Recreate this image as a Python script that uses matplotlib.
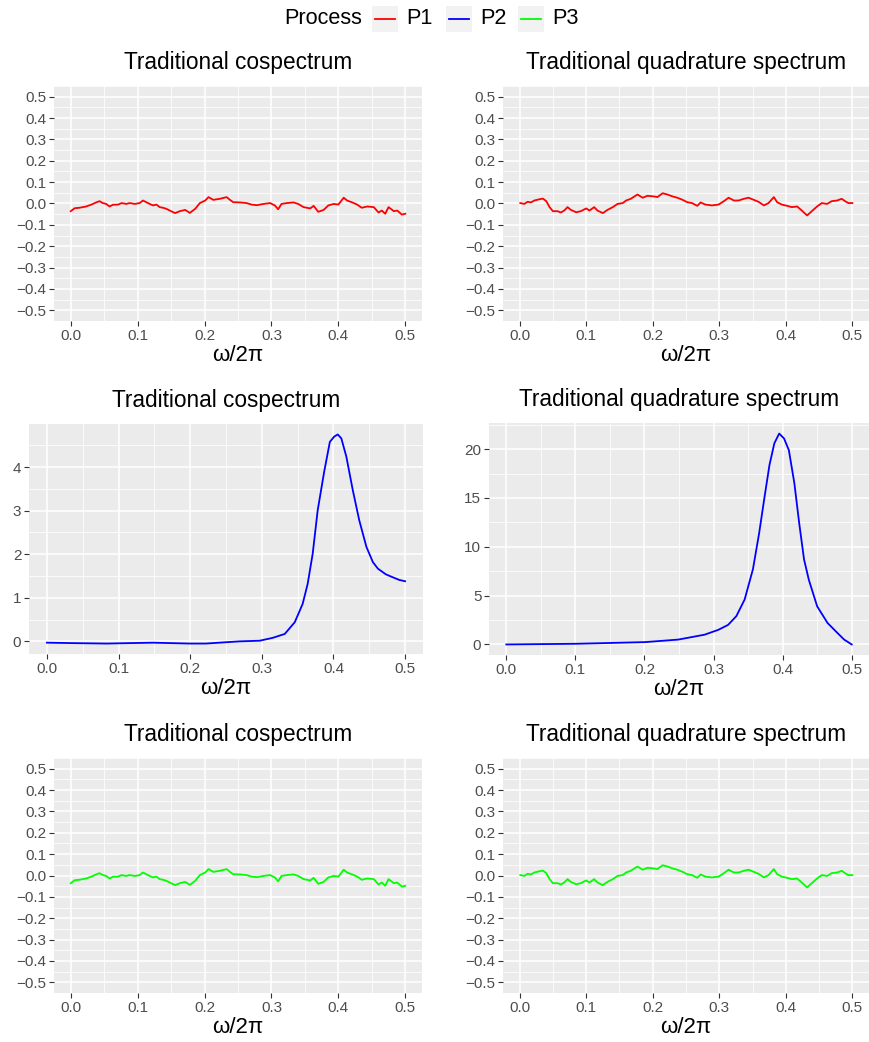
import matplotlib.pyplot as plt
from matplotlib.patches import Rectangle
from matplotlib.lines import Line2D
from matplotlib.ticker import MultipleLocator, FuncFormatter

plt.rcParams['font.family'] = ['Liberation Sans', 'DejaVu Sans']

W, H = 869, 1042

# P1 and P3 cospectrum
co_freq = [0.000, 0.006, 0.013, 0.023, 0.031, 0.038, 0.043, 0.048, 0.053, 0.058,
           0.063, 0.071, 0.076, 0.083, 0.088, 0.096, 0.103, 0.108, 0.113, 0.118,
           0.123, 0.128, 0.133, 0.138, 0.143, 0.148, 0.156, 0.163, 0.171, 0.178,
           0.186, 0.193, 0.201, 0.206, 0.213, 0.223, 0.233, 0.238, 0.243, 0.253,
           0.263, 0.270, 0.278, 0.288, 0.298, 0.305, 0.310, 0.315, 0.323, 0.333,
           0.340, 0.348, 0.358, 0.363, 0.370, 0.378, 0.385, 0.393, 0.400, 0.408,
           0.413, 0.420, 0.428, 0.435, 0.443, 0.453, 0.460, 0.465, 0.470, 0.475,
           0.483, 0.488, 0.495, 0.500]
co_vals = [-0.036, -0.022, -0.020, -0.014, -0.005, 0.005, 0.011, 0.002, -0.002, -0.014,
           -0.006, -0.005, 0.002, -0.002, 0.002, -0.002, 0.002, 0.014, 0.006, -0.002,
           -0.009, -0.005, -0.017, -0.020, -0.025, -0.033, -0.045, -0.036, -0.030, -0.044,
           -0.025, 0.002, 0.014, 0.030, 0.017, 0.022, 0.030, 0.017, 0.006, 0.005,
           0.002, -0.005, -0.008, -0.002, 0.002, -0.009, -0.027, -0.002, 0.002, 0.005,
           -0.002, -0.017, -0.023, -0.011, -0.039, -0.030, -0.009, -0.002, -0.005, 0.027,
           0.014, 0.006, -0.005, -0.020, -0.014, -0.017, -0.042, -0.033, -0.048, -0.017,
           -0.036, -0.033, -0.052, -0.048]

# P1 and P3 quadrature spectrum
quad_freq = [0.001, 0.007, 0.012, 0.017, 0.022, 0.030, 0.035, 0.040, 0.045, 0.050,
             0.057, 0.062, 0.067, 0.072, 0.077, 0.085, 0.092, 0.100, 0.105, 0.112,
             0.117, 0.125, 0.132, 0.140, 0.147, 0.155, 0.160, 0.167, 0.177, 0.185,
             0.192, 0.202, 0.207, 0.215, 0.222, 0.230, 0.237, 0.245, 0.252, 0.259,
             0.267, 0.272, 0.279, 0.289, 0.299, 0.307, 0.314, 0.322, 0.329, 0.337,
             0.344, 0.352, 0.359, 0.367, 0.374, 0.382, 0.387, 0.394, 0.402, 0.409,
             0.417, 0.424, 0.432, 0.439, 0.447, 0.454, 0.462, 0.469, 0.477, 0.484,
             0.489, 0.494, 0.500]
quad_vals = [0.002, -0.002, 0.008, 0.005, 0.014, 0.020, 0.023, 0.011, -0.017, -0.036,
             -0.036, -0.042, -0.033, -0.017, -0.030, -0.041, -0.036, -0.023, -0.033, -0.017,
             -0.033, -0.045, -0.030, -0.017, -0.002, 0.002, 0.014, 0.022, 0.042, 0.027,
             0.036, 0.033, 0.030, 0.048, 0.042, 0.033, 0.027, 0.017, 0.006, 0.002,
             -0.011, 0.005, -0.005, -0.009, -0.005, 0.011, 0.027, 0.014, 0.014, 0.022,
             0.027, 0.017, 0.008, -0.009, 0.002, 0.030, 0.006, -0.005, -0.011, -0.017,
             -0.014, -0.033, -0.056, -0.036, -0.014, 0.002, -0.002, 0.011, 0.014, 0.022,
             0.011, 0.002, 0.002]

# P2 cospectrum
p2_co_freq = [0.000, 0.036, 0.083, 0.148, 0.199, 0.222, 0.250, 0.269, 0.297, 0.315,
              0.332, 0.346, 0.357, 0.364, 0.371, 0.378, 0.387, 0.395, 0.401, 0.406,
              0.411, 0.418, 0.427, 0.436, 0.446, 0.455, 0.462, 0.473, 0.483, 0.492, 0.500]
p2_co_vals = [-0.03, -0.04, -0.05, -0.03, -0.05, -0.05, -0.02, 0.00, 0.015, 0.08,
              0.17, 0.44, 0.86, 1.32, 2.01, 3.01, 3.89, 4.58, 4.70, 4.75,
              4.66, 4.24, 3.47, 2.78, 2.17, 1.82, 1.67, 1.54, 1.47, 1.41, 1.38]

# P2 quadrature spectrum
p2_quad_freq = [0.000, 0.101, 0.201, 0.249, 0.287, 0.307, 0.321, 0.333, 0.345, 0.357,
                0.366, 0.374, 0.381, 0.388, 0.395, 0.402, 0.409, 0.417, 0.424, 0.431,
                0.438, 0.450, 0.465, 0.479, 0.489, 0.500]
p2_quad_vals = [0.0, 0.07, 0.24, 0.5, 1.0, 1.5, 2.0, 2.9, 4.6, 7.7,
                11.4, 15.2, 18.4, 20.6, 21.6, 21.1, 19.9, 16.5, 12.4, 8.7,
                6.6, 3.9, 2.2, 1.2, 0.5, 0.0]

processes = ['P1', 'P2', 'P3']
colors = ['#FF0000', '#0000FF', '#00FF00']
titles = ['Traditional cospectrum', 'Traditional quadrature spectrum']

fig = plt.figure(figsize=(W / 100, H / 100), dpi=100)


def px_axes(left, top, right, bottom):
    return fig.add_axes([left / W, 1 - bottom / H, (right - left) / W, (bottom - top) / H])


def fmt_func(fmt):
    return FuncFormatter(lambda v, p: (fmt % v).replace('-', '\u2212'))


def style(ax, ymaj, ymin, fmt, ylim):
    ax.set_facecolor('#EBEBEB')
    for s in ax.spines.values():
        s.set_visible(False)
    ax.set_xlim(-0.025, 0.525)
    ax.set_ylim(*ylim)
    ax.xaxis.set_major_locator(MultipleLocator(0.1))
    ax.xaxis.set_minor_locator(MultipleLocator(0.05))
    ax.xaxis.set_major_formatter(fmt_func('%.1f'))
    ax.yaxis.set_major_locator(MultipleLocator(ymaj))
    ax.yaxis.set_minor_locator(MultipleLocator(ymin))
    ax.yaxis.set_major_formatter(fmt_func(fmt))
    ax.grid(which='major', color='white', lw=1.1)
    ax.grid(which='minor', color='white', lw=0.55)
    ax.set_axisbelow(True)
    ax.tick_params(which='major', length=3.5, width=0.8, color='#333333',
                   labelcolor='#4D4D4D', labelsize=11, pad=2)
    ax.tick_params(which='minor', length=0)
    ax.set_xlabel('ω/2π', fontsize=16, labelpad=2)


# panel boxes in pixels: left, top, right, bottom
boxes = [
    [(54, 86, 422, 321), (503, 86, 869, 321)],
    [(29, 424, 423, 654), (489, 423, 869, 655)],
    [(54, 758, 422, 993), (503, 758, 869, 993)],
]

for i, proc in enumerate(processes):
    axl = px_axes(*boxes[i][0])
    axr = px_axes(*boxes[i][1])
    if proc == 'P2':
        axl.plot(p2_co_freq, p2_co_vals, color=colors[i], lw=1.3)
        axr.plot(p2_quad_freq, p2_quad_vals, color=colors[i], lw=1.3)
        style(axl, 1, 0.5, '%d', (-0.29, 4.99))
        style(axr, 5, 2.5, '%d', (-1.08, 22.68))
    else:
        axl.plot(co_freq, co_vals, color=colors[i], lw=1.3)
        axr.plot(quad_freq, quad_vals, color=colors[i], lw=1.3)
        style(axl, 0.1, 0.05, '%.1f', (-0.55, 0.55))
        style(axr, 0.1, 0.05, '%.1f', (-0.55, 0.55))
    axl.set_title(titles[0], fontsize=16.3, pad=12)
    axr.set_title(titles[1], fontsize=16.3, pad=12)

# legend across the top
fig.text(284 / W, 1 - 19 / H, 'Process', fontsize=15.6, ha='left', va='center')
key_x = [372, 446, 518]
for k, proc in enumerate(processes):
    x0 = key_x[k]
    fig.add_artist(Rectangle((x0 / W, 1 - 32 / H), 26 / W, 26 / H,
                             transform=fig.transFigure, facecolor='#F2F2F2', edgecolor='none'))
    fig.add_artist(Line2D([(x0 + 3) / W, (x0 + 23) / W], [1 - 19 / H, 1 - 19 / H],
                          transform=fig.transFigure, color=colors[k], lw=1.3))
    fig.text((x0 + 34) / W, 1 - 19 / H, proc, fontsize=15.6, ha='left', va='center')

fig.savefig('out.png', dpi=100)
